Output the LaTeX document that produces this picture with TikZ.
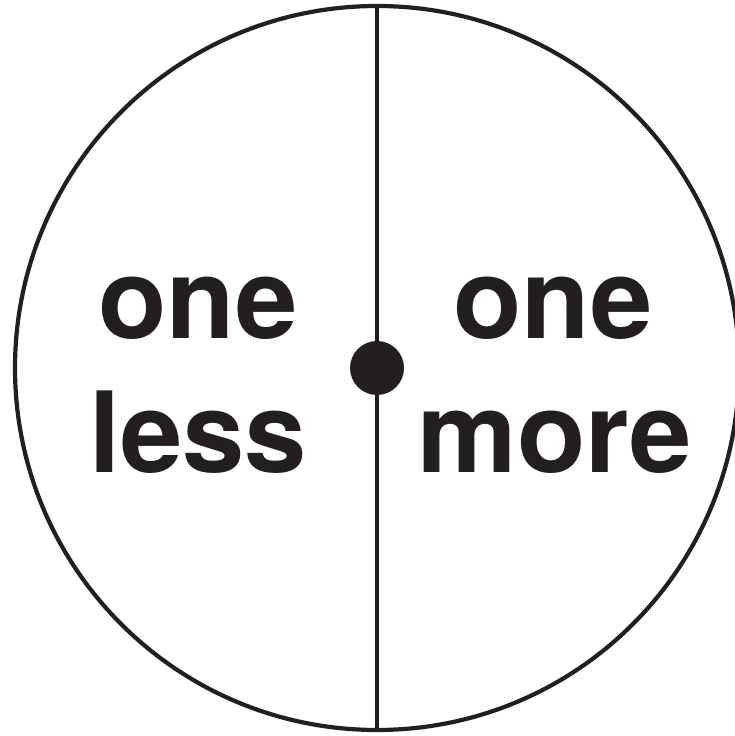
\documentclass[tikz,border=0pt]{standalone}
\usepackage{fontspec}
\setmainfont{TeX Gyre Heros}
\usetikzlibrary{positioning}
\definecolor{inkblack}{HTML}{231F20}

\begin{document}
\begin{tikzpicture}[x=1pt, y=1pt, inkblack, line width=4.2pt,
                    word/.style={font=\fontsize{112}{134}\selectfont\bfseries, anchor=base, inner sep=0pt},
                    hubdot/.style={circle, fill=inkblack, minimum size=54pt, inner sep=0pt}]
  \useasboundingbox (0,0) rectangle (734,736);
  \coordinate (c) at (377,368);
  \draw (c) circle[radius=362];
  \coordinate (north) at (377,730);
  \coordinate (south) at (377,6);
  \draw (north) -- (south);
  \node[hubdot] (hub) at (c) {};
  % left half
  \node[word] (oneL)  at (198,397) {one};
  \node[word] (less)  at (198,263) {less};
  % right half
  \node[word] (oneR)  at (553,397) {one};
  \node[word] (more)  at (555,263) {more};
\end{tikzpicture}
\end{document}
